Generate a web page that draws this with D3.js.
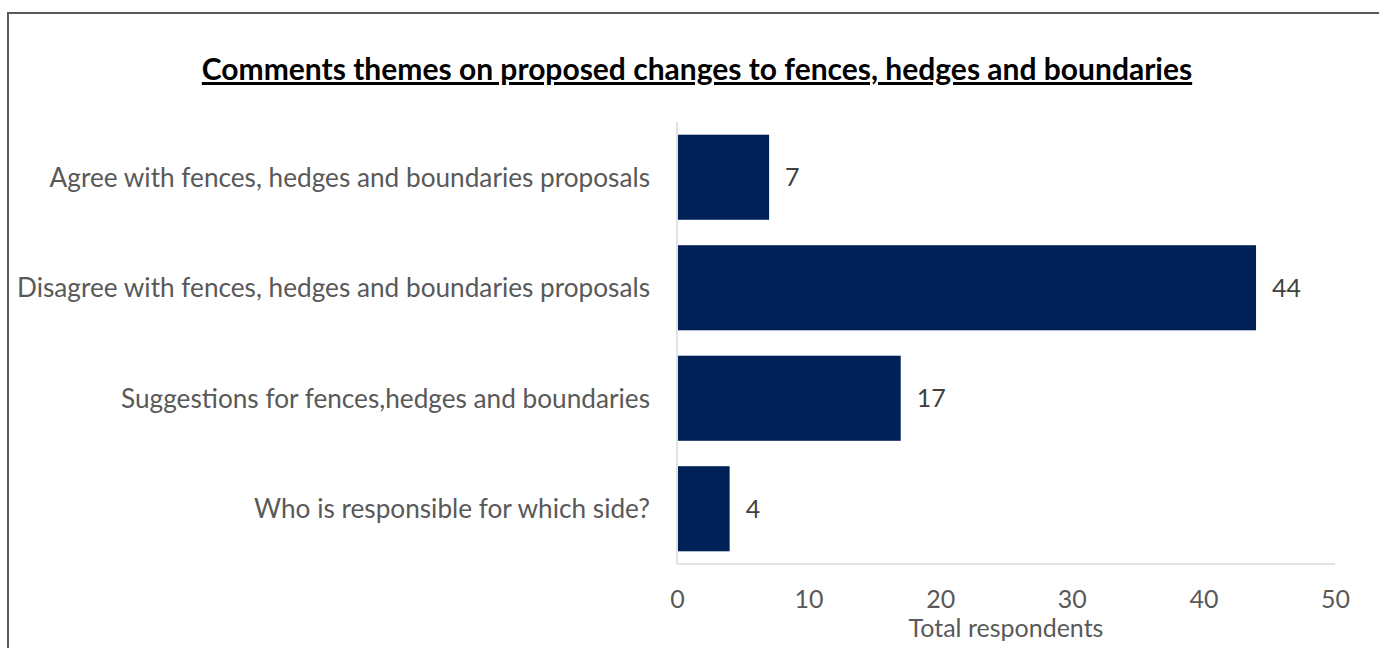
<!DOCTYPE html>
<html><head><meta charset="utf-8">
<script src="https://cdn.jsdelivr.net/npm/d3@7"></script>
<style>
html,body{margin:0;padding:0;background:#fff;overflow:hidden}
text{font-family:Lato,"Open Sans",sans-serif}
</style></head>
<body><svg id="chart" width="1379" height="648"></svg>
<script>
const title = "Comments themes on proposed changes to fences, hedges and boundaries";
const categories = [
  "Agree with fences, hedges and boundaries proposals",
  "Disagree with fences, hedges and boundaries proposals",
  "Suggestions for fences,hedges and boundaries",
  "Who is responsible for which side?"
];
const values = [7, 44, 17, 4];
const xTicks = [0, 10, 20, 30, 40, 50];
const xTitle = "Total respondents";

const svg = d3.select("#chart");
svg.append("rect").attr("x", 8).attr("y", 13).attr("width", 1400).attr("height", 700)
  .attr("fill", "#fff").attr("stroke", "#595959").attr("stroke-width", 2);

const x = d3.scaleLinear().domain([0, 50]).range([677, 1335]);
const y = d3.scaleBand().domain(categories).range([122, 564]).paddingInner(0.23).paddingOuter(0.115);

// axes lines
svg.append("line").attr("x1", x(0)).attr("x2", x(0)).attr("y1", 122).attr("y2", 564)
  .attr("stroke", "#d9d9d9").attr("stroke-width", 1.5);
svg.append("line").attr("x1", x(0)).attr("x2", x(50)).attr("y1", 564).attr("y2", 564)
  .attr("stroke", "#d9d9d9").attr("stroke-width", 1.5);

svg.selectAll("rect.bar").data(values).join("rect").attr("class", "bar")
  .attr("x", x(0) + 1).attr("y", (d, i) => y(categories[i]))
  .attr("width", d => x(d) - x(0) - 1).attr("height", y.bandwidth())
  .attr("fill", "#002157");

svg.selectAll("text.val").data(values).join("text").attr("class", "val")
  .attr("x", d => x(d) + 16).attr("y", (d, i) => y(categories[i]) + y.bandwidth() / 2)
  .attr("dy", "0.36em").attr("font-size", 25).attr("fill", "#404040").text(d => d);

svg.selectAll("text.cat").data(categories).join("text").attr("class", "cat")
  .attr("x", 650).attr("y", d => y(d) + y.bandwidth() / 2).attr("dy", "0.36em")
  .attr("text-anchor", "end").attr("font-size", 26.2).attr("fill", "#595959").text(d => d);

const xAxis = d3.axisBottom(x).tickValues(xTicks).tickSize(0).tickPadding(0);
const gx = svg.append("g").attr("transform", "translate(0,599)").call(xAxis);
gx.select(".domain").remove();
gx.selectAll("text").attr("font-size", 25).attr("fill", "#595959")
  .attr("font-family", "Lato, 'Open Sans', sans-serif").attr("dy", "0.36em").attr("y", 0);

svg.append("text").attr("x", 1006).attr("y", 637).attr("text-anchor", "middle")
  .attr("font-size", 25).attr("fill", "#595959").text(xTitle);

svg.append("text").attr("x", 697).attr("y", 80).attr("text-anchor", "middle")
  .attr("font-size", 30).attr("font-weight", "bold").attr("fill", "#000")
  .attr("text-decoration", "underline").text(title);
</script></body></html>
